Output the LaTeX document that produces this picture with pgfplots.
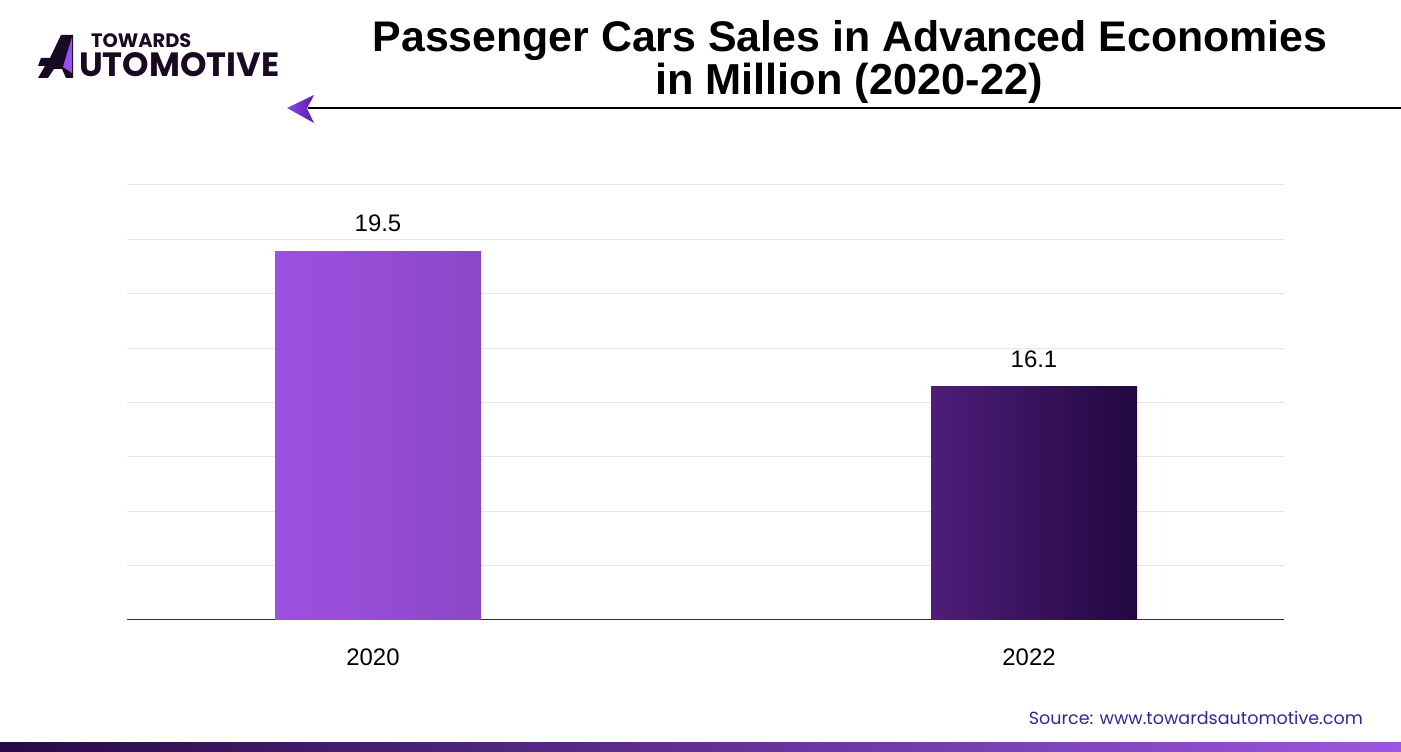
\documentclass[border=0pt]{standalone}
\usepackage{fontspec}
\usepackage{pgfplots}
\pgfplotsset{compat=1.18}
\setmainfont{Liberation Sans}
\newfontfamily\pop{Poppins}
\definecolor{bOneL}{RGB}{155,82,224}
\definecolor{bOneR}{RGB}{140,71,199}
\definecolor{bTwoL}{RGB}{79,29,122}
\definecolor{bTwoR}{RGB}{34,8,64}
\definecolor{srccol}{RGB}{62,32,150}
\definecolor{logodark}{RGB}{24,10,34}
\definecolor{logopurple}{RGB}{150,80,235}
\definecolor{gridcol}{RGB}{228,228,228}
\definecolor{arrL}{RGB}{140,70,230}
\definecolor{arrR}{RGB}{90,30,170}
\definecolor{barL}{RGB}{40,10,70}
\definecolor{barR}{RGB}{156,86,224}
\begin{document}
\begin{tikzpicture}[x=1bp,y=1bp]
\path[use as bounding box] (0,0) rectangle (1401,751);
% title
\node[anchor=base, inner sep=0pt, font=\fontsize{43}{43}\selectfont\bfseries] at (850,699) {Passenger Cars Sales in Advanced Economies};
\node[anchor=base, inner sep=0pt, font=\fontsize{43.5}{43.5}\selectfont\bfseries] at (849,656) {in Million (2020-22)};
% logo
\fill[logodark] (61,716) -- (73,716) -- (73,673) -- (66,673) -- (62,682) -- (54,682) -- (48,673) -- (38,673) -- (45,685) -- (38,685) -- (41,693) -- (50,693) -- cycle;
\fill[logopurple] (72,714) -- (72,678) -- (63,684) -- cycle;
\node[anchor=base west, inner sep=0pt, text=logodark, font=\fontsize{19.5}{19.5}\selectfont\pop\bfseries] at (91,703) {TOWARDS};
\node[anchor=base west, inner sep=0pt, text=logodark, font=\fontsize{33.8}{33.8}\selectfont\pop\bfseries] at (79,674) {UTOMOTIVE};
% arrow and rule
\draw[black, line width=1.5bp] (308,643) -- (1401,643);
\shade[left color=arrL, right color=arrR] (287,643) -- (314,656) -- (307,642.5) -- (314,628) -- cycle;
% bottom bar
\shade[left color=barL, right color=barR] (0,0) rectangle (1401,9);
% source
\node[anchor=base east, inner sep=0pt, text=srccol, font=\fontsize{17.6}{17.6}\selectfont\pop] at (1363,27) {Source: www.towardsautomotive.com};
\begin{axis}[
  at={(127bp,131bp)}, anchor=south west,
  scale only axis, width=1157bp, height=435bp,
  xmin=-0.38262, xmax=1.38110,
  ymin=10.255, ymax=21.155,
  ytick={10.255,11.6175,12.98,14.3425,15.705,17.0675,18.43,19.7925,21.155},
  yticklabels={},
  ymajorgrids, grid style={draw=gridcol, line width=1bp},
  axis x line*=bottom, axis y line*=left,
  x axis line style={-, draw=black!80, line width=1bp},
  y axis line style={draw=none},
  major tick length=0pt,
  xtick={0,1}, xticklabels={2020,2022},
  xticklabel style={anchor=base, inner sep=0pt, yshift=-46bp, xshift=-5bp, font=\fontsize{24}{24}\selectfont},
  /pgf/number format/assume math mode=true,
  ybar, bar width=206bp,
  nodes near coords,
  nodes near coords style={anchor=south, inner sep=0pt, yshift=19bp, font=\fontsize{24}{24}\selectfont, /pgf/number format/.cd, fixed, precision=1, fixed zerofill},
]
\addplot[ybar, bar shift=0pt, draw=none, left color=bOneL, right color=bOneR] coordinates {(0,19.5)};
\addplot[ybar, bar shift=0pt, draw=none, left color=bTwoL, right color=bTwoR] coordinates {(1,16.1)};
\end{axis}
\end{tikzpicture}
\end{document}
